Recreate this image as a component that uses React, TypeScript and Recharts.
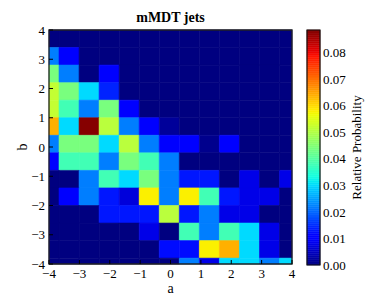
import { ComposedChart, ReferenceArea, XAxis, YAxis } from 'recharts';

const aTicks = [-4, -3, -2, -1, 0, 1, 2, 3, 4];
const bTicks = [-4, -3, -2, -1, 0, 1, 2, 3, 4];
// bin edges, a left->right, b top->bottom
const aEdges = [-4.33, -3.67, -3.01, -2.35, -1.69, -1.03, -0.37, 0.29, 0.95, 1.61, 2.27, 2.93, 3.59, 4.25];
const bEdges = [4.0, 3.4, 2.8, 2.2, 1.6, 1.0, 0.4, -0.2, -0.8, -1.4, -2.0, -2.6, -3.2, -3.8, -4.4];
// relative probability per row (top row first), one value per a-bin
const probRows = [
  [0, 0, 0, 0, 0, 0, 0, 0, 0, 0, 0, 0, 0],
  [0.022, 0.011, 0, 0, 0, 0, 0, 0, 0, 0, 0, 0, 0],
  [0.044, 0.022, 0, 0.011, 0, 0, 0, 0, 0, 0, 0, 0, 0],
  [0.052, 0.044, 0.03, 0.014, 0, 0, 0, 0, 0, 0, 0, 0, 0],
  [0.052, 0.038, 0.022, 0.044, 0.01, 0, 0, 0, 0, 0, 0, 0, 0],
  [0.064, 0.03, 0.088, 0.051, 0.022, 0.01, 0.002, 0, 0, 0, 0, 0, 0],
  [0.022, 0.044, 0.044, 0.03, 0.051, 0.022, 0.01, 0.01, 0.001, 0.01, 0, 0, 0],
  [0.01, 0.038, 0.038, 0.022, 0.044, 0.038, 0.022, 0, 0, 0, 0, 0, 0],
  [0, 0, 0.022, 0.038, 0.03, 0.044, 0.022, 0.013, 0.013, 0, 0.008, 0, 0.008],
  [0, 0.01, 0.022, 0.013, 0.007, 0.058, 0.022, 0.058, 0.038, 0.013, 0.008, 0.008, 0],
  [0, 0, 0, 0.013, 0.013, 0.013, 0.051, 0.013, 0.022, 0.008, 0.008, 0, 0],
  [0, 0, 0, 0, 0, 0.008, 0, 0.038, 0.022, 0.038, 0.03, 0.008, 0],
  [0, 0, 0, 0, 0, 0, 0.012, 0.012, 0.058, 0.064, 0.03, 0.008, 0],
  [0, 0, 0, 0, 0, 0, 0, 0.022, 0.008, 0.03, 0.03, 0.022, 0.03],
];
const barTicks = [0, 0.01, 0.02, 0.03, 0.04, 0.05, 0.06, 0.07, 0.08];
const probMax = 0.0885;

const font = 'Liberation Serif, Times New Roman, serif';

// matplotlib jet segment data
const jetRed = [[0, 0], [0.35, 0], [0.66, 1], [0.89, 1], [1, 0.5]];
const jetGreen = [[0, 0], [0.125, 0], [0.375, 1], [0.64, 1], [0.91, 0], [1, 0]];
const jetBlue = [[0, 0.5], [0.11, 1], [0.34, 1], [0.65, 0], [1, 0]];

const seg = (pts: number[][], t: number) => {
  for (let i = 1; i < pts.length; i++) {
    if (t <= pts[i][0]) {
      const [x0, y0] = pts[i - 1];
      const [x1, y1] = pts[i];
      return y0 + ((t - x0) / (x1 - x0)) * (y1 - y0);
    }
  }
  return pts[pts.length - 1][1];
};

const jet = (t: number) => {
  const c = Math.max(0, Math.min(1, t));
  const r = Math.round(seg(jetRed, c) * 255);
  const g = Math.round(seg(jetGreen, c) * 255);
  const b = Math.round(seg(jetBlue, c) * 255);
  return `rgb(${r},${g},${b})`;
};

// colour bar drawn as thin slices of the scale
const barSlices = Array.from({ length: 120 }, (_, i) => i / 120);

const minus = (v: number) => (v < 0 ? `\u2212${Math.abs(v)}` : `${v}`);

const BottomTick = ({ x, y, payload }: any) => (
  <g>
    <line x1={x} y1={y - 9} x2={x} y2={y - 13} stroke="#000" />
    <text x={x} y={y} dy="0.36em" textAnchor="middle" fontFamily={font} fontSize={13} fill="#000">
      {minus(payload.value)}
    </text>
  </g>
);

const TopTick = ({ x, y }: any) => <line x1={x} y1={y} x2={x} y2={y + 4} stroke="#000" />;

const LeftTick = ({ x, y, payload }: any) => (
  <g>
    <line x1={x + 4} y1={y} x2={x + 8} y2={y} stroke="#000" />
    <text x={x} y={y} dy="0.36em" textAnchor="end" fontFamily={font} fontSize={13} fill="#000">
      {minus(payload.value)}
    </text>
  </g>
);

const RightTick = ({ x, y }: any) => <line x1={x} y1={y} x2={x - 4} y2={y} stroke="#000" />;

const BarTick = ({ x, y, payload }: any) => (
  <text x={x} y={y} dy="0.36em" textAnchor="start" fontFamily={font} fontSize={13} fill="#000">
    {payload.value.toFixed(2)}
  </text>
);

const clampA = (v: number) => Math.max(-4, Math.min(4, v));

export default function App() {
  const cells = probRows.flatMap((row, r) =>
    row.map((p, c) => {
      const color = jet(p / probMax);
      return (
        <ReferenceArea
          key={`${r}-${c}`}
          x1={clampA(aEdges[c])}
          x2={clampA(aEdges[c + 1])}
          y1={clampA(bEdges[r + 1])}
          y2={clampA(bEdges[r])}
          fill={color}
          fillOpacity={1}
          stroke={color}
          strokeWidth={0.6}
        />
      );
    })
  );

  const slices = barSlices.map((s) => {
    const color = jet(s + 1 / 240);
    return (
      <ReferenceArea
        key={s}
        x1={0}
        x2={1}
        y1={s * probMax}
        y2={(s + 1 / 120) * probMax}
        fill={color}
        fillOpacity={1}
        stroke={color}
        strokeWidth={0.5}
      />
    );
  });

  return (
    <div style={{ position: 'absolute', left: 0, top: 0, width: 392, height: 302, background: '#fff' }}>
      <div
        style={{
          position: 'absolute',
          left: 49,
          width: 243,
          top: 10,
          textAlign: 'center',
          fontFamily: font,
          fontWeight: 'bold',
          fontSize: 14,
          lineHeight: '16px',
        }}
      >
        mMDT jets
      </div>
      <div style={{ position: 'absolute', left: 0, top: 0 }}>
        <ComposedChart width={300} height={302} margin={{ top: 30, right: 8, bottom: 0, left: 0 }} data={[]}>
          {cells}
          <ReferenceArea x1={-4} x2={4} y1={-4} y2={4} fill="none" stroke="#222" strokeWidth={1.3} />
          <XAxis
            type="number"
            dataKey="a"
            domain={[-4, 4]}
            ticks={aTicks}
            allowDataOverflow
            height={38}
            tickSize={0}
            tickMargin={9}
            axisLine={false}
            tick={<BottomTick />}
            interval={0}
            label={{ value: 'a', position: 'center', dy: 5, fontFamily: font, fontSize: 14, fill: '#000' }}
          />
          <XAxis
            xAxisId="t"
            orientation="top"
            type="number"
            domain={[-4, 4]}
            ticks={aTicks}
            allowDataOverflow
            height={0}
            tickSize={0}
            tickMargin={0}
            axisLine={false}
            tick={<TopTick />}
            interval={0}
          />
          <YAxis
            type="number"
            dataKey="b"
            domain={[-4, 4]}
            ticks={bTicks}
            allowDataOverflow
            width={49}
            tickSize={0}
            tickMargin={4}
            axisLine={false}
            tick={<LeftTick />}
            interval={0}
            label={{ value: 'b', angle: -90, position: 'center', dx: -2, fontFamily: font, fontSize: 14, fill: '#000' }}
          />
          <YAxis
            yAxisId="r"
            orientation="right"
            type="number"
            domain={[-4, 4]}
            ticks={bTicks}
            allowDataOverflow
            width={0}
            tickSize={0}
            tickMargin={0}
            axisLine={false}
            tick={<RightTick />}
            interval={0}
          />
        </ComposedChart>
      </div>
      <div style={{ position: 'absolute', left: 300, top: 0 }}>
        <ComposedChart width={92} height={302} margin={{ top: 30, right: 0, bottom: 37, left: 7 }} data={[]}>
          {slices}
          <ReferenceArea x1={0} x2={1} y1={0} y2={probMax} fill="none" stroke="#111" strokeWidth={1.2} />
          <XAxis
            type="number"
            dataKey="x"
            domain={[0, 1]}
            allowDataOverflow
            height={0}
            tick={false}
            tickLine={false}
            axisLine={false}
          />
          <YAxis
            orientation="right"
            type="number"
            dataKey="p"
            domain={[0, probMax]}
            ticks={barTicks}
            allowDataOverflow
            width={72}
            tickSize={0}
            tickMargin={3}
            axisLine={false}
            tick={<BarTick />}
            interval={0}
            label={{ value: 'Relative Probability', angle: -90, position: 'center', fontFamily: font, fontSize: 13, fill: '#000' }}
          />
        </ComposedChart>
      </div>
    </div>
  );
}
